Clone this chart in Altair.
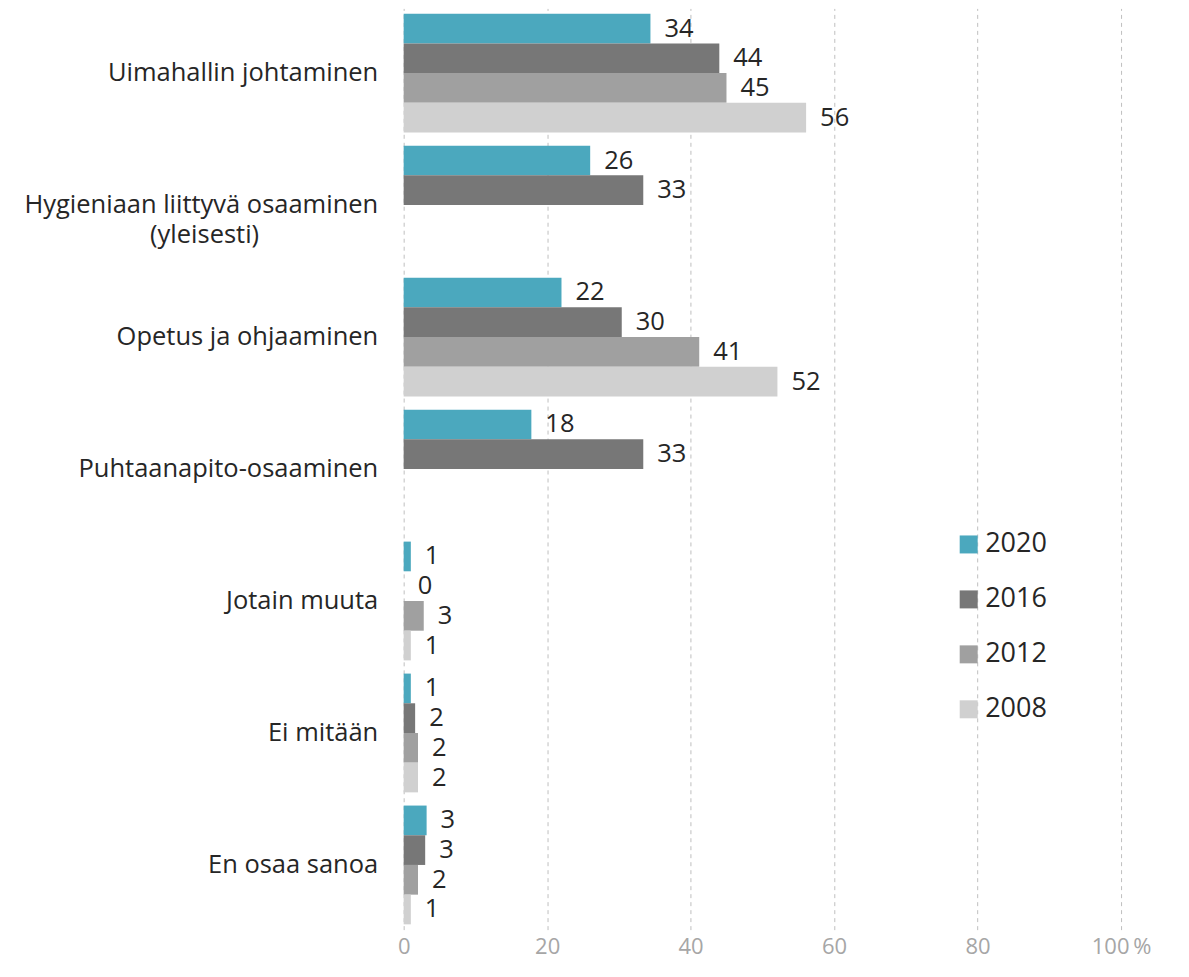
import altair as alt
import pandas as pd

NB = "\u00a0"
categories = [
    "Uimahallin johtaminen",
    "Hygieniaan liittyvä osaaminen|(yleisesti)" + NB * 18 + "\u200b",
    "Opetus ja ohjaaminen",
    "Puhtaanapito-osaaminen",
    "Jotain muuta",
    "Ei mitään",
    "En osaa sanoa",
]
years = ["2020", "2016", "2012", "2008"]
v2020 = [34.4, 26.0, 22.0, 17.8, 1.0, 1.0, 3.2]
v2016 = [44.0, 33.4, 30.4, 33.4, 0.0, 1.6, 3.0]
v2012 = [45.0, None, 41.2, None, 2.8, 2.0, 2.0]
v2008 = [56.1, None, 52.1, None, 1.0, 2.0, 1.0]
colors = ["#4BA8BE", "#777777", "#A0A0A0", "#D0D0D0"]

rows = []
for yr, vals in zip(years, [v2020, v2016, v2012, v2008]):
    for c, v in zip(categories, vals):
        if v is not None:
            rows.append({"cat": c, "year": yr, "value": v})
df = pd.DataFrame(rows)

FONT = "Open Sans"

y_enc = alt.Y("cat:N", sort=categories,
              scale=alt.Scale(paddingInner=0.1, paddingOuter=0.04),
              axis=alt.Axis(title=None, domain=False, ticks=False,
                            labelFontSize=25.5, labelColor="#262626",
                            labelFont=FONT, labelPadding=26,
                            labelLimit=420, labelLineHeight=30,
                            labelExpr="split(datum.label, '|')"))
yoff = alt.YOffset("year:N", sort=years,
                   scale=alt.Scale(domain=years, paddingInner=0, paddingOuter=0))
x_enc = alt.X("value:Q",
              scale=alt.Scale(domain=[0, 100], nice=False),
              axis=alt.Axis(title=None, values=[0, 20, 40, 60, 80, 100],
                            domain=False, ticks=False, grid=True,
                            gridDash=[4, 4], gridColor="#BFBFBF",
                            labelFontSize=22, labelColor="#A6A6A6",
                            labelFont=FONT, labelPadding=7,
                            labelFlush=False, labelOverlap=False,
                            labelExpr="datum.value == 100 ? '100\u2009%' : datum.label"))

bars = alt.Chart(df).mark_bar().encode(
    x=x_enc,
    y=y_enc,
    yOffset=yoff,
    color=alt.Color("year:N", sort=years,
                    scale=alt.Scale(domain=years, range=colors),
                    legend=alt.Legend(title=None, orient="none",
                                      legendX=552, legendY=523,
                                      symbolType="square", symbolSize=324,
                                      symbolStrokeWidth=0,
                                      labelFontSize=27, labelColor="#262626",
                                      labelFont=FONT, rowPadding=27,
                                      labelOffset=3)),
)

text = alt.Chart(df).mark_text(align="left", baseline="middle", dx=14,
                               fontSize=25.5, font=FONT, color="#262626").encode(
    x="value:Q",
    y=alt.Y("cat:N", sort=categories),
    yOffset=alt.YOffset("year:N", sort=years),
    text=alt.Text("value:Q", format=".0f"),
)

chart = (bars + text).properties(
    width=718, height=922,
    autosize=alt.AutoSizeParams(type="none"),
    padding={"left": 396, "top": 0, "right": 60, "bottom": 40},
).configure_view(stroke=None)

chart.save("out.html", embed_options={"renderer": "svg", "actions": False})
